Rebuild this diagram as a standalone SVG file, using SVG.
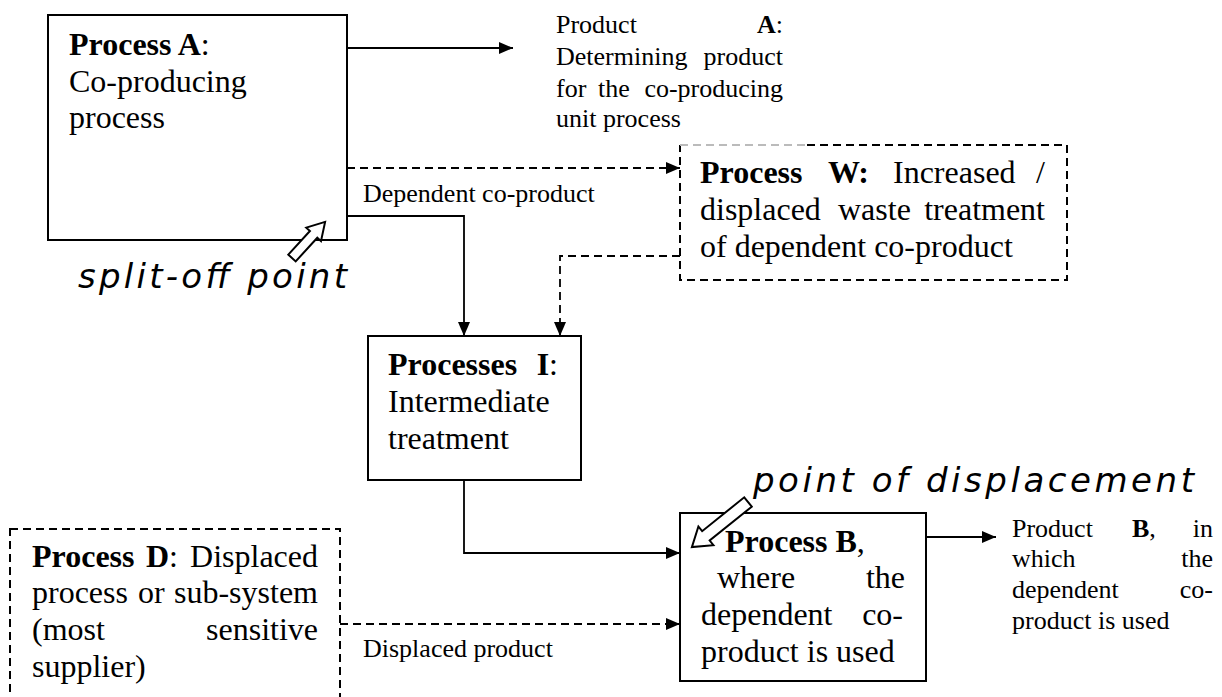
<svg xmlns="http://www.w3.org/2000/svg" width="1222" height="697" viewBox="0 0 1222 697">
<style>
.box{fill:#fff;stroke:#000;stroke-width:2}
.dbox{fill:none;stroke:#000;stroke-width:2;stroke-dasharray:8 5}
.t{font-family:"Liberation Serif","Times New Roman",serif;font-size:32px;fill:#000}
.s{font-family:"Liberation Serif","Times New Roman",serif;font-size:26px;fill:#000}
.b{font-weight:bold}
.it{font-family:"DejaVu Sans",Verdana,sans-serif;font-style:italic;font-size:34px;fill:#000}
.ln{fill:none;stroke:#000;stroke-width:1.8}
.dl{fill:none;stroke:#000;stroke-width:1.8;stroke-dasharray:8 5}
.blk{fill:#fff;stroke:#000;stroke-width:2;stroke-linejoin:miter}
</style>
<defs>
<marker id="ah" viewBox="0 0 14 12" refX="14" refY="6" markerWidth="14" markerHeight="12" markerUnits="userSpaceOnUse" orient="auto">
<path d="M0,0 L14,6 L0,12 z" fill="#000"/>
</marker>
</defs>
<rect width="1222" height="697" fill="#fff"/>

<g id="connectors">
<line class="ln" x1="347" y1="48" x2="513" y2="48" marker-end="url(#ah)"/>
<line class="dl" x1="347" y1="168" x2="680" y2="168" marker-end="url(#ah)"/>
<polyline class="ln" points="347,216 464,216 464,336" marker-end="url(#ah)"/>
<polyline class="dl" points="680,256 560,256 560,336" marker-end="url(#ah)"/>
<polyline class="ln" points="464,480 464,553 680,553" marker-end="url(#ah)"/>
<line class="dl" x1="340" y1="624" x2="680" y2="624" marker-end="url(#ah)"/>
<line class="ln" x1="926" y1="537" x2="996" y2="537" marker-end="url(#ah)"/>
<text class="s" x="363" y="202">Dependent co-product</text>
<text class="s" x="363" y="657">Displaced product</text>
</g>

<g id="process-a">
<rect class="box" x="48" y="15" width="299" height="225"/>
<text class="t" x="69" y="55"><tspan class="b">Process A</tspan>:</text>
<text class="t" x="69" y="92">Co-producing</text>
<text class="t" x="69" y="128">process</text>
</g>

<g id="product-a">
<text class="s" x="556" y="33">Product</text>
<text class="s" x="783" y="33" text-anchor="end"><tspan class="b">A</tspan>:</text>
<text class="s" x="556" y="65">Determining</text>
<text class="s" x="783" y="65" text-anchor="end">product</text>
<text class="s" x="556" y="97">for</text>
<text class="s" x="598" y="97">the</text>
<text class="s" x="783" y="97" text-anchor="end">co-producing</text>
<text class="s" x="556" y="127">unit process</text>
</g>

<g id="process-w">
<path class="dbox" d="M807,145 L1067,145 L1067,280 L680,280 L680,145"/>
<path class="dbox" style="stroke:#bbb" d="M680,145 L807,145"/>
<text class="t b" x="700" y="183">Process</text>
<text class="t b" x="828" y="183">W:</text>
<text class="t" x="893" y="183">Increased</text>
<text class="t" x="1045" y="183" text-anchor="end">/</text>
<text class="t" x="700" y="220">displaced</text>
<text class="t" x="838" y="220">waste</text>
<text class="t" x="1045" y="220" text-anchor="end">treatment</text>
<text class="t" x="700" y="257">of dependent co-product</text>
</g>

<g id="split-off">
<path class="blk" transform="translate(292,258) rotate(-47.5)" d="M0,-5 L32,-5 L32,-10 L49,0 L32,10 L32,5 L0,5 Z"/>
<text class="it" x="78" y="288" textLength="269" lengthAdjust="spacing">split-off point</text>
</g>

<g id="process-i">
<rect class="box" x="368" y="336" width="213" height="144"/>
<text class="t b" x="388" y="375">Processes</text>
<text class="t" x="558" y="375" text-anchor="end"><tspan class="b">I</tspan>:</text>
<text class="t" x="388" y="412">Intermediate</text>
<text class="t" x="388" y="449">treatment</text>
</g>

<g id="process-d">
<rect class="dbox" x="10" y="529" width="330" height="200"/>
<text class="t b" x="32" y="567">Process</text>
<text class="t" x="146" y="567"><tspan class="b">D</tspan>:</text>
<text class="t" x="318" y="567" text-anchor="end">Displaced</text>
<text class="t" x="32" y="603">process</text>
<text class="t" x="138" y="603">or</text>
<text class="t" x="318" y="603" text-anchor="end">sub-system</text>
<text class="t" x="32" y="640">(most</text>
<text class="t" x="318" y="640" text-anchor="end">sensitive</text>
<text class="t" x="32" y="677">supplier)</text>
</g>

<g id="process-b">
<rect class="box" x="680" y="513" width="246" height="168"/>
<text class="t" x="725" y="552"><tspan class="b">Process B</tspan>,</text>
<text class="t" x="717" y="588">where</text>
<text class="t" x="905" y="588" text-anchor="end">the</text>
<text class="t" x="701" y="625">dependent</text>
<text class="t" x="903" y="625" text-anchor="end">co-</text>
<text class="t" x="701" y="662">product is used</text>
</g>

<g id="displacement">
<path class="blk" transform="translate(748,502) rotate(141.2)" d="M0,-6 L54,-6 L54,-12 L72,0 L54,12 L54,6 L0,6 Z"/>
<text class="it" x="753" y="492" textLength="441" lengthAdjust="spacing">point of displacement</text>
</g>

<g id="product-b">
<text class="s" x="1012" y="537">Product</text>
<text class="s" x="1132" y="537"><tspan class="b">B</tspan>,</text>
<text class="s" x="1213" y="537" text-anchor="end">in</text>
<text class="s" x="1012" y="567">which</text>
<text class="s" x="1213" y="567" text-anchor="end">the</text>
<text class="s" x="1012" y="598">dependent</text>
<text class="s" x="1213" y="598" text-anchor="end">co-</text>
<text class="s" x="1012" y="629">product is used</text>
</g>
</svg>
